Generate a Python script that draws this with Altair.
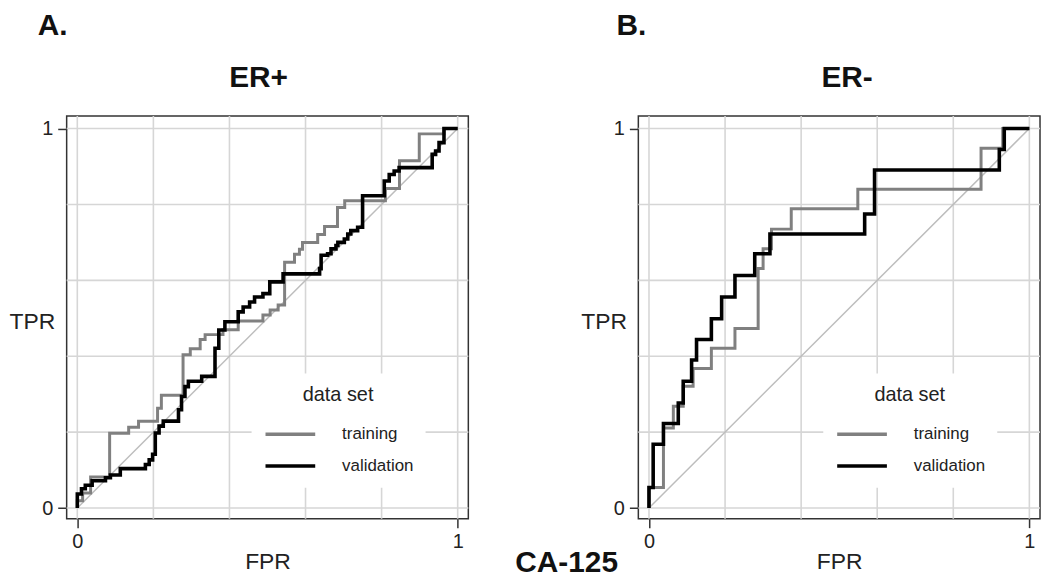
import altair as alt
import pandas as pd

# ---------------- data ----------------
series_names = ["training", "validation"]
series_colors = ["#808080", "#000000"]
series_widths = [3.0, 3.6]

# Panel A (ER+): staircase ROC points (fpr at each rise, tpr after the rise)
erpos_train_fpr = [0, 0, 0.014, 0.035, 0.085, 0.135, 0.161, 0.211, 0.221, 0.278, 0.297, 0.323,
                   0.336, 0.383, 0.423, 0.488, 0.507, 0.528, 0.545, 0.571, 0.584, 0.592, 0.632,
                   0.650, 0.684, 0.703, 0.810, 0.847, 0.899, 0.964, 1.0]
erpos_train_tpr = [0, 0.019, 0.040, 0.082, 0.197, 0.213, 0.229, 0.263, 0.297, 0.404, 0.420, 0.444,
                   0.457, 0.470, 0.493, 0.509, 0.522, 0.535, 0.648, 0.669, 0.682, 0.700, 0.721,
                   0.742, 0.792, 0.810, 0.842, 0.915, 0.986, 1.0, 1.0]
erpos_valid_fpr = [0, 0, 0.011, 0.021, 0.039, 0.074, 0.087, 0.113, 0.179, 0.189, 0.198, 0.205,
                   0.215, 0.226, 0.266, 0.274, 0.283, 0.292, 0.327, 0.362, 0.372, 0.388, 0.423,
                   0.436, 0.453, 0.466, 0.488, 0.506, 0.541, 0.637, 0.641, 0.658, 0.667, 0.680,
                   0.685, 0.702, 0.711, 0.719, 0.737, 0.750, 0.807, 0.820, 0.833, 0.846, 0.933,
                   0.942, 0.951, 0.964, 1.0]
erpos_valid_tpr = [0, 0.037, 0.051, 0.060, 0.072, 0.080, 0.087, 0.104, 0.115, 0.127, 0.142, 0.198,
                   0.216, 0.229, 0.259, 0.294, 0.320, 0.334, 0.347, 0.421, 0.469, 0.491, 0.517,
                   0.530, 0.543, 0.556, 0.565, 0.596, 0.617, 0.631, 0.666, 0.670, 0.683, 0.692,
                   0.700, 0.709, 0.722, 0.731, 0.740, 0.823, 0.862, 0.879, 0.888, 0.897, 0.932,
                   0.941, 0.963, 1.0, 1.0]

# Panel B (ER-)
erneg_train_fpr = [0, 0, 0.038, 0.064, 0.090, 0.116, 0.164, 0.226, 0.287, 0.300, 0.322, 0.374,
                   0.549, 0.873, 0.930, 1.0]
erneg_train_tpr = [0, 0.054, 0.211, 0.268, 0.321, 0.368, 0.421, 0.473, 0.631, 0.683, 0.735, 0.789,
                   0.840, 0.948, 1.0, 1.0]
erneg_valid_fpr = [0, 0, 0.011, 0.038, 0.077, 0.090, 0.112, 0.125, 0.164, 0.191, 0.226, 0.278,
                   0.318, 0.567, 0.593, 0.921, 0.934, 1.0]
erneg_valid_tpr = [0, 0.054, 0.168, 0.223, 0.277, 0.334, 0.390, 0.444, 0.499, 0.556, 0.613, 0.670,
                   0.722, 0.775, 0.891, 0.945, 1.0, 1.0]

diag_fpr = [0, 1]
diag_tpr = [0, 1]
grid_values = [0, 0.2, 0.4, 0.6, 0.8, 1.0]
tick_values = [0, 1]
panel_titles = ["ER+", "ER-"]
panel_letters = ["A.", "B."]
footer_text = "CA-125"

# ---------------- styling ----------------
FONT = "Liberation Sans"
W, H = 404, 405
x_scale = alt.Scale(domain=[-0.028, 1.028], nice=False, zero=False)
y_scale = alt.Scale(domain=[-0.028, 1.033], nice=False, zero=False)

x_axis = alt.Axis(values=tick_values, format="d", grid=False, domain=False, ticks=True,
                  tickSize=9, tickWidth=1.5, tickColor="#333333", labelFontSize=20,
                  labelFont=FONT, labelColor="#222222", labelPadding=4, title="FPR",
                  titleFontSize=23, titleFont=FONT, titleFontWeight="normal",
                  titleColor="#222222", titleY=50, titleBaseline="alphabetic")
y_axis = alt.Axis(values=tick_values, format="d", grid=False, domain=False, ticks=True,
                  tickSize=9, tickWidth=1.5, tickColor="#333333", labelFontSize=20,
                  labelFont=FONT, labelColor="#222222", labelPadding=5, title="TPR",
                  titleFontSize=23, titleFont=FONT, titleFontWeight="normal",
                  titleColor="#222222", titleAngle=0, titleX=-58, titleY=207,
                  titleAlign="left", titleBaseline="middle")


def curves_df(tr_f, tr_t, va_f, va_t):
    rows = []
    for name, fs, ts in ((series_names[0], tr_f, tr_t), (series_names[1], va_f, va_t)):
        for i, (f, t) in enumerate(zip(fs, ts)):
            rows.append({"set": name, "fpr": f, "tpr": t, "i": i})
    return pd.DataFrame(rows)


def panel(df, title, letter, title_x, letter_dx):
    grid_df = pd.DataFrame({"g": grid_values})
    vgrid = alt.Chart(grid_df).mark_rule(color="#d6d6d6", strokeWidth=1.6).encode(
        x=alt.X("g:Q", scale=x_scale, axis=x_axis))
    hgrid = alt.Chart(grid_df).mark_rule(color="#d6d6d6", strokeWidth=1.6).encode(
        y=alt.Y("g:Q", scale=y_scale, axis=y_axis))
    diag = alt.Chart(pd.DataFrame({"fpr": diag_fpr, "tpr": diag_tpr})).mark_line(
        color="#bdbdbd", strokeWidth=1.5).encode(
        x=alt.X("fpr:Q", scale=x_scale, axis=x_axis),
        y=alt.Y("tpr:Q", scale=y_scale, axis=y_axis))
    lines = alt.Chart(df).mark_line(interpolate="step-after", strokeJoin="miter").encode(
        x=alt.X("fpr:Q", scale=x_scale, axis=x_axis),
        y=alt.Y("tpr:Q", scale=y_scale, axis=y_axis),
        order="i:Q",
        color=alt.Color("set:N", scale=alt.Scale(domain=series_names, range=series_colors),
                        legend=alt.Legend(title="data set", orient="none",
                                          legendX=186, legendY=259,
                                          fillColor="white", padding=12,
                                          symbolType="stroke", symbolSize=2500,
                                          symbolStrokeWidth=3.4, labelFontSize=17,
                                          labelFont=FONT, labelColor="#222222",
                                          titleFontSize=20, titleFont=FONT,
                                          titleFontWeight="normal", titleColor="#222222",
                                          titleAnchor="middle", labelOffset=25,
                                          clipHeight=20, rowPadding=12, titlePadding=19)),
        strokeWidth=alt.StrokeWidth("set:N", scale=alt.Scale(domain=series_names,
                                                             range=series_widths),
                                    legend=None))
    head = alt.Chart(pd.DataFrame({"t": [title]})).mark_text(
        font=FONT, fontSize=30, fontWeight="bold", align="center", baseline="alphabetic",
        color="#111111").encode(x=alt.value(title_x), y=alt.value(-29), text="t:N")
    return alt.layer(vgrid, hgrid, diag, lines, head).properties(
        width=W, height=H,
        title=alt.TitleParams(text=letter, anchor="start", frame="bounds", fontSize=30,
                              fontWeight="bold", font=FONT, color="#111111",
                              baseline="alphabetic", offset=-1, dx=letter_dx))


pa = panel(curves_df(erpos_train_fpr, erpos_train_tpr, erpos_valid_fpr, erpos_valid_tpr),
           panel_titles[0], panel_letters[0], 193, 29)
pb = panel(curves_df(erneg_train_fpr, erneg_train_tpr, erneg_valid_fpr, erneg_valid_tpr),
           panel_titles[1], panel_letters[1], 210, 36)

chart = alt.hconcat(pa, pb, spacing=110).resolve_legend(color="independent").properties(
    padding={"left": 0, "top": 0, "right": 0, "bottom": 0},
    title=alt.TitleParams(text=footer_text, orient="bottom", anchor="middle", dx=42,
                          offset=-2, baseline="alphabetic", fontSize=30, fontWeight="bold",
                          font=FONT, color="#111111")
).configure_view(stroke="#333333", strokeWidth=1.5)

chart.save("out.html", embed_options={"renderer": "svg", "actions": False})
